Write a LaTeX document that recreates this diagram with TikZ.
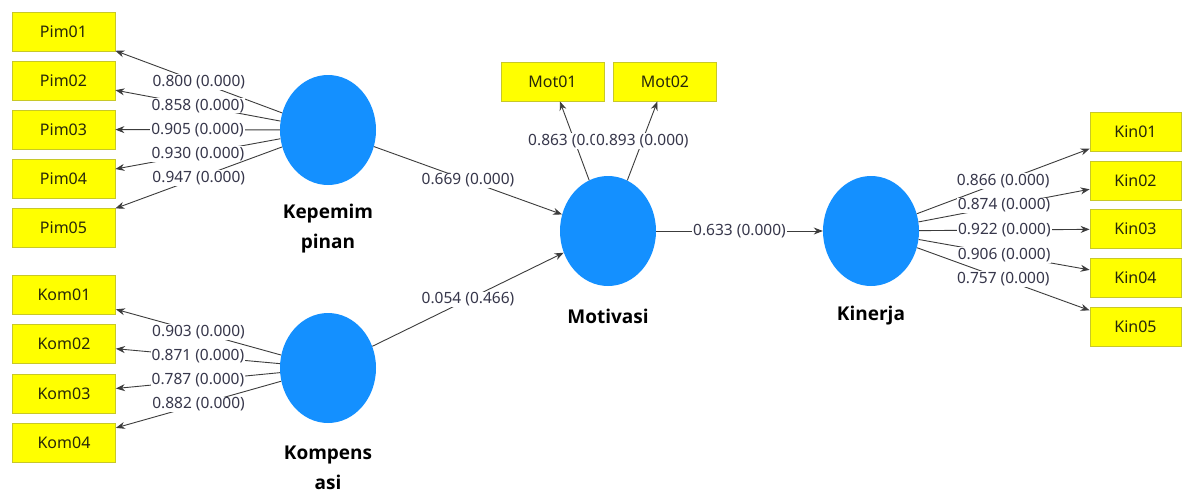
\documentclass[tikz,border=0pt]{standalone}
\usepackage{fontspec}
\setmainfont{Noto Sans}
\newfontfamily\lvbold{Open Sans}
\usetikzlibrary{shapes.geometric,arrows.meta}
\definecolor{lvblue}{RGB}{20,144,255}
\definecolor{boxyellow}{RGB}{255,255,0}
\definecolor{boxborder}{RGB}{200,200,40}
\definecolor{boxtext}{RGB}{40,40,10}
\definecolor{labtext}{RGB}{55,55,75}
\definecolor{linecol}{RGB}{60,60,60}
\tikzset{
  latent/.style={ellipse,fill=lvblue,draw=none,minimum width=96pt,minimum height=110pt,inner sep=0pt},
  indic/.style={rectangle,fill=boxyellow,draw=boxborder,line width=0.8pt,minimum width=103pt,minimum height=39pt,inner sep=0pt,text=boxtext,font=\fontsize{16}{18}\selectfont},
  lab/.style={fill=white,inner sep=1pt,text=labtext,font=\fontsize{15.5}{18}\selectfont},
  conn/.style={draw=linecol,line width=0.9pt,-{Stealth[length=9pt,width=7pt]}},
  lvname/.style={font=\lvbold\bfseries\fontsize{19}{30}\selectfont,align=center,text=black}
}
\begin{document}
\begin{tikzpicture}[x=1pt,y=-1pt]
\useasboundingbox (0,0) rectangle (1182,490);
\fill[white] (0,0) rectangle (1182,490);
% latent variables
\node[latent] (kep) at (328,130) {};
\node[latent] (kom) at (328,368) {};
\node[latent] (mot) at (608,231) {};
\node[latent] (kin) at (871,231) {};
\node[lvname] (kepn) at (328,229) {Kepemim\\pinan};
\node[lvname] (komn) at (328,468) {Kompens\\asi};
\node[lvname] (motn) at (608,316) {Motivasi};
\node[lvname] (kinn) at (871,316) {Kinerja};
% indicators
\node[indic] (pim01) at (63.5,31.5) {Pim01};
\node[indic] (pim02) at (63.5,80.5) {Pim02};
\node[indic] (pim03) at (63.5,129.5) {Pim03};
\node[indic] (pim04) at (63.5,178.5) {Pim04};
\node[indic] (pim05) at (63.5,227.5) {Pim05};
\node[indic] (kom01) at (64,295) {Kom01};
\node[indic] (kom02) at (64,344) {Kom02};
\node[indic] (kom03) at (64,393.5) {Kom03};
\node[indic] (kom04) at (64,442.5) {Kom04};
\node[indic] (mot01) at (552.5,81.5) {Mot01};
\node[indic] (mot02) at (665,81.5) {Mot02};
\node[indic,minimum width=91pt] (kin01) at (1135.5,131.5) {Kin01};
\node[indic,minimum width=91pt] (kin02) at (1135.5,180.5) {Kin02};
\node[indic,minimum width=91pt] (kin03) at (1135.5,229) {Kin03};
\node[indic,minimum width=91pt] (kin04) at (1135.5,278) {Kin04};
\node[indic,minimum width=91pt] (kin05) at (1135.5,327) {Kin05};
% outer loadings
\draw[conn] (kep) -- node[lab] {0.800 (0.000)} (pim01);
\draw[conn] (kep) -- node[lab] {0.858 (0.000)} (pim02);
\draw[conn] (kep) -- node[lab] {0.905 (0.000)} (pim03);
\draw[conn] (kep) -- node[lab] {0.930 (0.000)} (pim04);
\draw[conn] (kep) -- node[lab] {0.947 (0.000)} (pim05);
\draw[conn] (kom) -- node[lab] {0.903 (0.000)} (kom01);
\draw[conn] (kom) -- node[lab] {0.871 (0.000)} (kom02);
\draw[conn] (kom) -- node[lab] {0.787 (0.000)} (kom03);
\draw[conn] (kom) -- node[lab] {0.882 (0.000)} (kom04);
\draw[conn] (mot) -- node[lab] {0.863 (0.000)} (mot01);
\draw[conn] (mot) -- node[lab] {0.893 (0.000)} (mot02);
\draw[conn] (kin) -- node[lab] {0.866 (0.000)} (kin01);
\draw[conn] (kin) -- node[lab] {0.874 (0.000)} (kin02);
\draw[conn] (kin) -- node[lab] {0.922 (0.000)} (kin03);
\draw[conn] (kin) -- node[lab] {0.906 (0.000)} (kin04);
\draw[conn] (kin) -- node[lab] {0.757 (0.000)} (kin05);
% path coefficients
\draw[conn] (kep) -- node[lab] {0.669 (0.000)} (mot);
\draw[conn] (kom) -- node[lab] {0.054 (0.466)} (mot);
\draw[conn] (mot) -- node[lab] {0.633 (0.000)} (kin);
\end{tikzpicture}
\end{document}
